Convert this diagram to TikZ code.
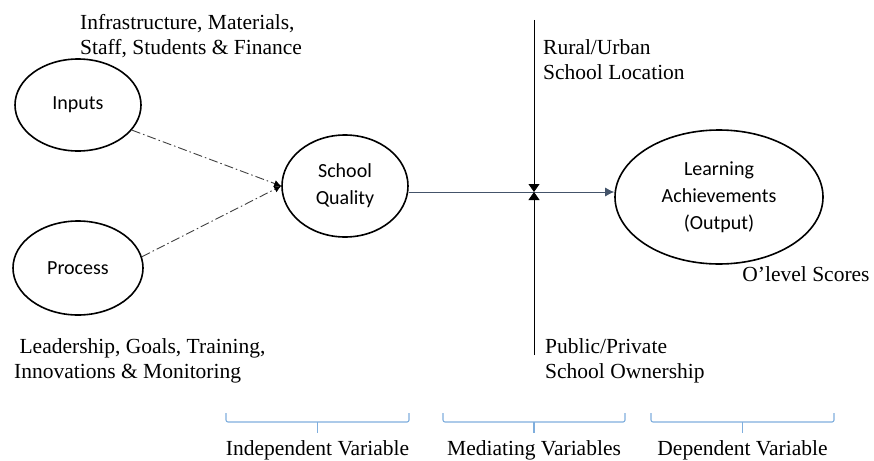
\documentclass[tikz,border=0pt]{standalone}
\usepackage{fontspec}
\setmainfont{Liberation Serif}
\newfontfamily\calib{Carlito}
\usetikzlibrary{shapes.geometric, arrows.meta}
\definecolor{flowblue}{HTML}{44546A}
\definecolor{braceblue}{HTML}{7FAEDD}
\tikzset{>=latex,
  oval/.style={ellipse, draw, line width=1.6pt, inner sep=0pt, align=center,
    font=\calib\fontsize{20}{27}\selectfont},
  note/.style={inner sep=0pt, align=left, font=\fontsize{21.5}{25}\selectfont},
  vartext/.style={inner sep=0pt, font=\fontsize{21.5}{25}\selectfont},
  feed/.style={draw=black!75, line width=0.9pt,
    dash pattern=on 9pt off 3pt on 1.5pt off 3pt, -{Latex[black,length=7pt,width=7pt]}},
  flow/.style={draw=flowblue, line width=0.9pt, -{Latex[length=9pt,width=9pt]}},
  med/.style={line width=0.9pt, -{Triangle[length=8pt,width=11pt]}},
  brace/.style={draw=braceblue, line width=1.1pt, rounded corners=2pt}
}

\begin{document}
\begin{tikzpicture}[x=1pt,y=-1pt]
\useasboundingbox (0,0) rectangle (874,460);
\node[oval, minimum width=126pt, minimum height=92pt] (In) at (78,105) {Inputs};
\node[oval, minimum width=130pt, minimum height=94pt] (Pr) at (78,268) {Process};
\node[oval, minimum width=126pt, minimum height=102pt] (SQ) at (345,186) {School\\Quality};
\node[oval, minimum width=208pt, minimum height=134pt] (LA) at (719,197) {Learning\\Achievements\\(Output)};
\coordinate (M) at (534,192);
\coordinate (Rtop) at (534,20);
\coordinate (Pbot) at (534,355);

\draw[feed] (In.-25) -- (SQ.west);
\draw[feed] (Pr.10) -- (SQ.west);
\draw[flow] (SQ.east |- M) -- (LA.west |- M);
\draw[med] (Rtop) -- (M);
\draw[med] (Pbot) -- (M);

\node[note, anchor=west] (infra) at (80,36) {Infrastructure, Materials,\\Staff, Students \& Finance};
\node[note, anchor=west] (lead) at (14,361) {\ Leadership, Goals, Training,\\Innovations \& Monitoring};
\node[note, anchor=west] (rural) at (543,60) {Rural/Urban\\School Location};
\node[note, anchor=west] (public) at (545,361) {Public/Private\\School Ownership};
\node[note] (olevel) at (806,274) {O’level Scores};

\foreach \l/\r/\nm/\txt in {226/409/iv/Independent Variable, 443/625/mv/Mediating Variables, 651/834/dv/Dependent Variable}{
  \draw[brace] (\l,413) -- (\l,422) -- (\r,422) -- (\r,413);
  \draw[brace] ({(\l+\r)/2},422) -- ({(\l+\r)/2},433);
  \node[vartext] (\nm) at ({(\l+\r)/2},450) {\txt};
}
\end{tikzpicture}
\end{document}
